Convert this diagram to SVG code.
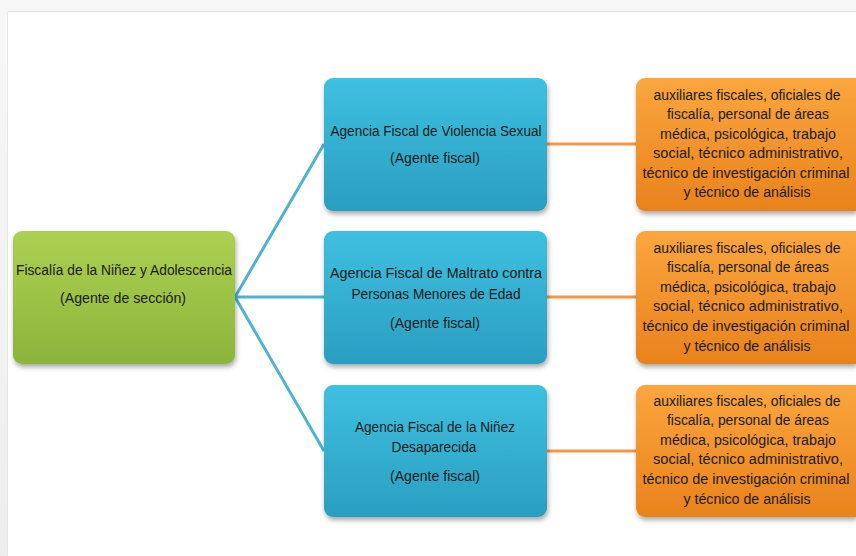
<svg xmlns="http://www.w3.org/2000/svg" width="856" height="556" viewBox="0 0 856 556">
<defs>
<linearGradient id="gGreen" x1="0" y1="0" x2="0" y2="1"><stop offset="0" stop-color="#abd052"/><stop offset="1" stop-color="#8db43a"/></linearGradient>
<linearGradient id="gBlue" x1="0" y1="0" x2="0" y2="1"><stop offset="0" stop-color="#3fc0e0"/><stop offset="1" stop-color="#2a9ec0"/></linearGradient>
<linearGradient id="gOrange" x1="0" y1="0" x2="0" y2="1"><stop offset="0" stop-color="#fba63e"/><stop offset="1" stop-color="#e9821c"/></linearGradient>
<filter id="sh" x="-10%" y="-10%" width="125%" height="130%"><feDropShadow dx="1" dy="3" stdDeviation="2.5" flood-color="#000" flood-opacity="0.35"/></filter>
<linearGradient id="gTop" x1="0" y1="0" x2="0" y2="1"><stop offset="0" stop-color="#f7f7f7"/><stop offset="1" stop-color="#eeeeee"/></linearGradient>
</defs>
<style>
text{font-family:"Liberation Sans","Noto Sans",sans-serif;font-size:15.5px;fill:#1c1c1c;text-anchor:middle}
.s text{font-size:14px}
.c{stroke:#4db3cf;stroke-width:3;fill:none}
.o{stroke:#f79646;stroke-width:3;fill:none}
.ob{fill:url(#gOrange);filter:url(#sh)}
</style>
<rect x="0" y="0" width="856" height="556" fill="url(#gTop)"/>
<rect x="8" y="12" width="848" height="544" fill="#ffffff"/>
<line x1="8" y1="11.5" x2="856" y2="11.5" stroke="#e2e2e2" stroke-width="1"/>
<line x1="7.5" y1="12" x2="7.5" y2="556" stroke="#e6e6e6" stroke-width="1"/>
<g id="connectors">
<path class="c" d="M235 297 L324 144 M235 297 L324 297 M235 297 L324 451"/>
<path class="o" d="M547 144 L636 144 M547 297 L636 297 M547 451 L636 451"/>
</g>
<g id="n-root">
<rect x="13" y="231" width="222" height="133" rx="9" fill="url(#gGreen)" filter="url(#sh)"/>
<text x="124" y="275" textLength="216" lengthAdjust="spacingAndGlyphs">Fiscalía de la Niñez y Adolescencia</text>
<text x="123" y="303" textLength="126" lengthAdjust="spacingAndGlyphs">(Agente de sección)</text>
</g>
<g id="n-a1">
<rect x="324" y="78" width="223" height="133" rx="9" fill="url(#gBlue)" filter="url(#sh)"/>
<text x="436" y="136" textLength="211" lengthAdjust="spacingAndGlyphs">Agencia Fiscal de Violencia Sexual</text>
<text x="435" y="163" textLength="90" lengthAdjust="spacingAndGlyphs">(Agente fiscal)</text>
</g>
<g id="n-a2">
<rect x="324" y="231" width="223" height="133" rx="9" fill="url(#gBlue)" filter="url(#sh)"/>
<text x="436" y="278" textLength="212" lengthAdjust="spacingAndGlyphs">Agencia Fiscal de Maltrato contra</text>
<text x="436" y="299" textLength="169" lengthAdjust="spacingAndGlyphs">Personas Menores de Edad</text>
<text x="435" y="328" textLength="90" lengthAdjust="spacingAndGlyphs">(Agente fiscal)</text>
</g>
<g id="n-a3">
<rect x="324" y="385" width="223" height="132" rx="9" fill="url(#gBlue)" filter="url(#sh)"/>
<text x="435" y="432" textLength="160" lengthAdjust="spacingAndGlyphs">Agencia Fiscal de la Niñez</text>
<text x="434" y="452" textLength="85" lengthAdjust="spacingAndGlyphs">Desaparecida</text>
<text x="435" y="481" textLength="90" lengthAdjust="spacingAndGlyphs">(Agente fiscal)</text>
</g>
<g id="n-p1" class="s">
<path class="ob" d="M645 78 H856 V211 H645 A9 9 0 0 1 636 202 V87 A9 9 0 0 1 645 78 Z"/>
<text x="747" y="100" textLength="187" lengthAdjust="spacingAndGlyphs">auxiliares fiscales, oficiales de</text>
<text x="748" y="119" textLength="162" lengthAdjust="spacingAndGlyphs">fiscalía, personal de áreas</text>
<text x="748" y="139" textLength="176" lengthAdjust="spacingAndGlyphs">médica, psicológica, trabajo</text>
<text x="748" y="158" textLength="190" lengthAdjust="spacingAndGlyphs">social, técnico administrativo,</text>
<text x="746" y="178" textLength="207" lengthAdjust="spacingAndGlyphs">técnico de investigación criminal</text>
<text x="747" y="197" textLength="127" lengthAdjust="spacingAndGlyphs">y técnico de análisis</text>
</g>
<g id="n-p2" class="s">
<path class="ob" d="M645 231 H856 V364 H645 A9 9 0 0 1 636 355 V240 A9 9 0 0 1 645 231 Z"/>
<text x="747" y="253" textLength="187" lengthAdjust="spacingAndGlyphs">auxiliares fiscales, oficiales de</text>
<text x="748" y="272" textLength="162" lengthAdjust="spacingAndGlyphs">fiscalía, personal de áreas</text>
<text x="748" y="292" textLength="176" lengthAdjust="spacingAndGlyphs">médica, psicológica, trabajo</text>
<text x="748" y="311" textLength="190" lengthAdjust="spacingAndGlyphs">social, técnico administrativo,</text>
<text x="746" y="331" textLength="207" lengthAdjust="spacingAndGlyphs">técnico de investigación criminal</text>
<text x="747" y="351" textLength="127" lengthAdjust="spacingAndGlyphs">y técnico de análisis</text>
</g>
<g id="n-p3" class="s">
<path class="ob" d="M645 385 H856 V517 H645 A9 9 0 0 1 636 508 V394 A9 9 0 0 1 645 385 Z"/>
<text x="747" y="406" textLength="187" lengthAdjust="spacingAndGlyphs">auxiliares fiscales, oficiales de</text>
<text x="748" y="425" textLength="162" lengthAdjust="spacingAndGlyphs">fiscalía, personal de áreas</text>
<text x="748" y="445" textLength="176" lengthAdjust="spacingAndGlyphs">médica, psicológica, trabajo</text>
<text x="748" y="464" textLength="190" lengthAdjust="spacingAndGlyphs">social, técnico administrativo,</text>
<text x="746" y="484" textLength="207" lengthAdjust="spacingAndGlyphs">técnico de investigación criminal</text>
<text x="747" y="504" textLength="127" lengthAdjust="spacingAndGlyphs">y técnico de análisis</text>
</g>
</svg>
